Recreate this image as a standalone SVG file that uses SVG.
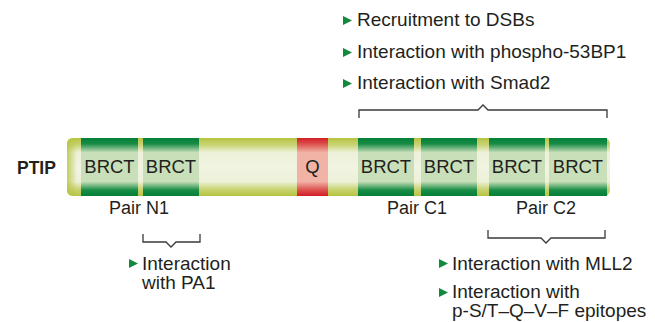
<svg xmlns="http://www.w3.org/2000/svg" width="655" height="322" viewBox="0 0 655 322">
  <defs>
    <linearGradient id="gBar" x1="0" y1="0" x2="0" y2="1">
      <stop offset="0" stop-color="#b6c440"/>
      <stop offset="0.12" stop-color="#c9d475"/>
      <stop offset="0.25" stop-color="#edf1d9"/>
      <stop offset="0.5" stop-color="#f0f4e1"/>
      <stop offset="0.75" stop-color="#edf1d9"/>
      <stop offset="0.88" stop-color="#c9d475"/>
      <stop offset="1" stop-color="#b6c440"/>
    </linearGradient>
    <linearGradient id="gBrct" x1="0" y1="0" x2="0" y2="1">
      <stop offset="0" stop-color="#067f38"/>
      <stop offset="0.1" stop-color="#168c45"/>
      <stop offset="0.25" stop-color="#c9dfb9"/>
      <stop offset="0.75" stop-color="#c9dfb9"/>
      <stop offset="0.9" stop-color="#168c45"/>
      <stop offset="1" stop-color="#067f38"/>
    </linearGradient>
    <linearGradient id="gQ" x1="0" y1="0" x2="0" y2="1">
      <stop offset="0" stop-color="#d21d26"/>
      <stop offset="0.1" stop-color="#dc4f4c"/>
      <stop offset="0.25" stop-color="#f1b3a5"/>
      <stop offset="0.75" stop-color="#f1b3a5"/>
      <stop offset="0.9" stop-color="#dc4f4c"/>
      <stop offset="1" stop-color="#d21d26"/>
    </linearGradient>
    <linearGradient id="gCapL" x1="0" y1="0" x2="1" y2="0">
      <stop offset="0" stop-color="#b6c440" stop-opacity="0.8"/>
      <stop offset="1" stop-color="#b6c440" stop-opacity="0"/>
    </linearGradient>
  </defs>
  <style>
    text { font-family: "Liberation Sans", Arial, sans-serif; fill: #231f20; }
    .lbl { font-size: 19px; }
    .dom { font-size: 18.5px; text-anchor: middle; }
    .pair { font-size: 18px; text-anchor: middle; }
    .title { font-size: 17.5px; font-weight: bold; }
    .brct { fill: url(#gBrct); }
    .q { fill: url(#gQ); }
    .bullet { fill: #0f8a3e; }
    .brace { fill: none; stroke: #3a3a3a; stroke-width: 1.3; stroke-linejoin: miter; }
  </style>

  <!-- protein name -->
  <text class="title" x="17" y="174">PTIP</text>

  <!-- protein backbone -->
  <g id="ptip-bar">
    <rect x="67" y="138" width="543" height="58" rx="6" fill="url(#gBar)"/>
    <rect x="67" y="138" width="10" height="58" rx="5" fill="url(#gCapL)"/>
  </g>

  <!-- domains -->
  <g id="brct1"><rect class="brct" x="81" y="138" width="57" height="58"/><text class="dom" x="109.5" y="173">BRCT</text></g>
  <g id="brct2"><rect class="brct" x="143" y="138" width="56" height="58"/><text class="dom" x="171" y="173">BRCT</text></g>
  <g id="q-rich"><rect class="q" x="297" y="138" width="31" height="58"/><text class="dom" x="312.5" y="173">Q</text></g>
  <g id="brct3"><rect class="brct" x="358" y="138" width="56" height="58"/><text class="dom" x="386" y="173">BRCT</text></g>
  <g id="brct4"><rect class="brct" x="421" y="138" width="56" height="58"/><text class="dom" x="449" y="173">BRCT</text></g>
  <g id="brct5"><rect class="brct" x="489" y="138" width="56" height="58"/><text class="dom" x="517" y="173">BRCT</text></g>
  <g id="brct6"><rect class="brct" x="549" y="138" width="58" height="58"/><text class="dom" x="578" y="173">BRCT</text></g>

  <!-- pair names -->
  <g id="pair-labels">
    <text class="pair" x="139" y="214">Pair N1</text>
    <text class="pair" x="417" y="214">Pair C1</text>
    <text class="pair" x="546" y="214">Pair C2</text>
  </g>

  <!-- braces grouping the BRCT pairs -->
  <g id="connectors">
    <path class="brace" d="M359,118 V110 H478 L483,105 L488,110 H607 V118"/>
    <path class="brace" d="M143,234 V242 H166 L171,247 L176,242 H200 V234"/>
    <path class="brace" d="M488,230 V238 H541 L546,243 L551,238 H605 V230"/>
  </g>

  <!-- functions of the C-terminal pairs -->
  <g id="c-terminal-functions">
    <path class="bullet" d="M343,16 L352,20.5 L343,25 Z"/>
    <text class="lbl" x="357" y="26">Recruitment to DSBs</text>
    <path class="bullet" d="M343,48 L352,52.5 L343,57 Z"/>
    <text class="lbl" x="357" y="58">Interaction with phospho-53BP1</text>
    <path class="bullet" d="M343,79 L352,83.5 L343,88 Z"/>
    <text class="lbl" x="357" y="89">Interaction with Smad2</text>
  </g>

  <!-- function of pair N1 -->
  <g id="n1-function">
    <path class="bullet" d="M129,259 L138,263.5 L129,268 Z"/>
    <text class="lbl" x="142" y="270">Interaction</text>
    <text class="lbl" x="142" y="289">with PA1</text>
  </g>

  <!-- functions of pair C2 -->
  <g id="c2-function">
    <path class="bullet" d="M439,259 L448,263.5 L439,268 Z"/>
    <text class="lbl" x="452" y="270">Interaction with MLL2</text>
    <path class="bullet" d="M439,288 L448,292.5 L439,297 Z"/>
    <text class="lbl" x="452" y="298">Interaction with</text>
    <text class="lbl" x="452" y="317">p-S/T–Q–V–F epitopes</text>
  </g>
</svg>
